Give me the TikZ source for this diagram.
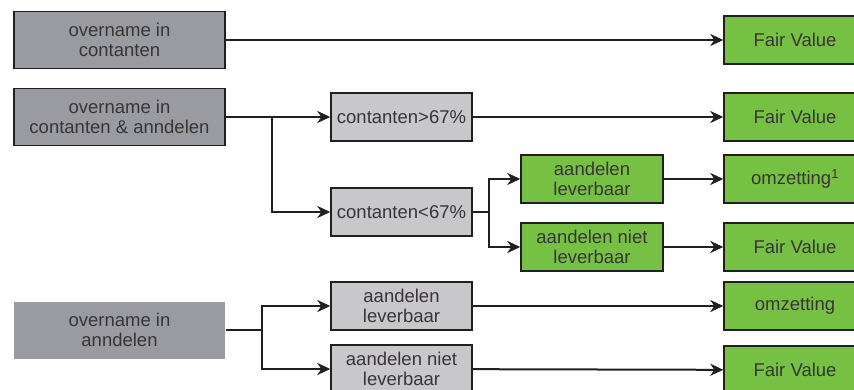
\documentclass[tikz,border=0pt]{standalone}
\usepackage{fontspec}
\setmainfont{Liberation Sans}
\usetikzlibrary{arrows.meta}
\definecolor{takeover}{HTML}{999BA0}
\definecolor{choice}{HTML}{C8C8CA}
\definecolor{outcome}{HTML}{76C043}
\definecolor{ink}{HTML}{231F20}
\begin{document}
\begin{tikzpicture}[x=1pt,y=-1pt,
  box/.style={draw=ink, line width=1.4pt, align=center, inner sep=0pt,
    text=ink!90, font=\fontsize{18.5}{20.5}\selectfont},
  takeover/.style={box, fill=takeover, minimum width=211pt, minimum height=57pt},
  choice/.style={box, fill=choice, minimum width=141pt, minimum height=48pt},
  outcome/.style={box, fill=outcome, minimum width=142pt, minimum height=48pt},
  ->,>={Stealth[length=13pt,width=12pt,inset=4pt]},line width=2pt,draw=ink
]
\useasboundingbox (0,0) rectangle (854,390);
\node[takeover] (cash) at (119.5,40) {overname in\\contanten};
\node[takeover] (mixed) at (119.5,117) {overname in\\contanten \& anndelen};
\node[takeover, draw=none] (shares) at (119.5,330) {overname in\\anndelen};

\node[choice] (over) at (401.5,117) {contanten>67\%};
\node[choice] (under) at (401.5,212) {contanten<67\%};
\node[outcome] (mdel) at (592,179) {aandelen\\leverbaar};
\node[outcome] (mnodel) at (592,247) {aandelen niet\\leverbaar};
\node[choice] (sdel) at (401.5,306) {aandelen\\leverbaar};
\node[choice] (snodel) at (401.5,369) {aandelen niet\\leverbaar};

\node[outcome] (fv1) at (795,40) {Fair Value};
\node[outcome] (fv2) at (795,117) {Fair Value};
\node[outcome] (conv1) at (795,179) {omzetting\textsuperscript{1}};
\node[outcome] (fv3) at (795,247) {Fair Value};
\node[outcome] (conv2) at (795,306) {omzetting};
\node[outcome] (fv4) at (795,370) {Fair Value};

\coordinate (jmixed) at (272,117);
\coordinate (junder) at (489,212);
\coordinate (jshares) at (262,330);

\draw (cash) -- (fv1);
\draw (mixed) -- (over);
\draw (jmixed) |- (under);
\draw (over) -- (fv2);
\draw[-] (under) -- (junder);
\draw (junder) |- (mdel);
\draw (junder) |- (mnodel);
\draw (mdel) -- (conv1);
\draw (mnodel) -- (fv3);
\draw[-] (shares) -- (jshares);
\draw (jshares) |- (sdel);
\draw (jshares) |- (snodel);
\draw (sdel) -- (conv2);
\draw (snodel) -- (fv4);
\end{tikzpicture}
\end{document}
